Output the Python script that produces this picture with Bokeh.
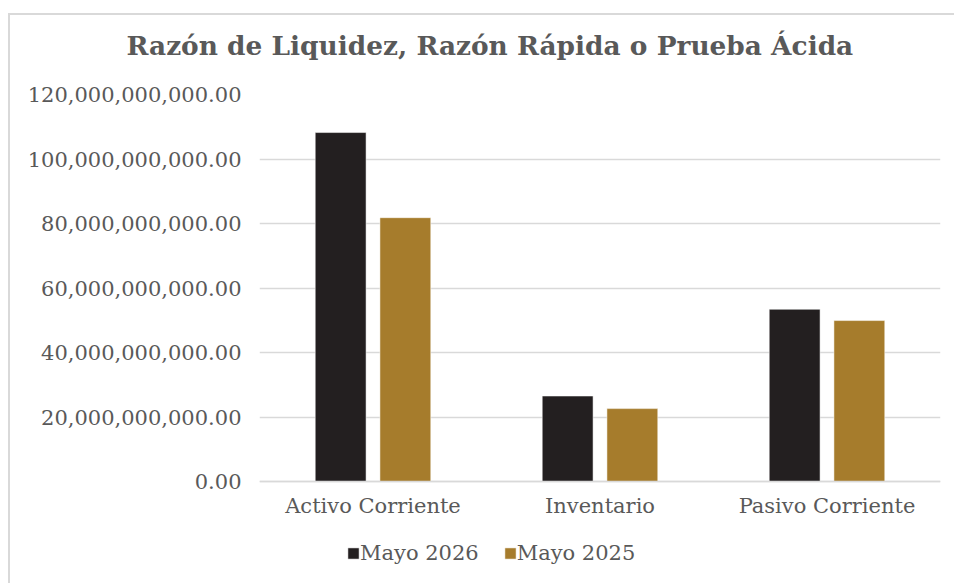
from bokeh.plotting import figure
from bokeh.models import (ColumnDataSource, FactorRange, Range1d, Legend, LegendItem,
                          NumeralTickFormatter, FixedTicker, Title)
from bokeh.transform import dodge
from bokeh.embed import file_html
from bokeh.resources import INLINE

categories = ["Activo Corriente", "Inventario", "Pasivo Corriente"]
mayo_2026 = [108.2e9, 26.5e9, 53.4e9]
mayo_2025 = [81.8e9, 22.6e9, 49.9e9]
series_names = ["Mayo 2026", "Mayo 2025"]
y_ticks = [0, 20e9, 40e9, 60e9, 80e9, 100e9, 120e9]

TEXT = "#595959"
FONT = "DejaVu Serif"
DARK = "#231F20"
GOLD = "#A67C2C"
BORDER = "#d9d9d9"

# the plot frame reaches below the zero line so that the category labels and the
# legend (drawn inside the frame) are not clipped; 0 sits 94 px above frame bottom
Y_MAX = 120e9
Y_MIN = -Y_MAX * 94 / 387

src = ColumnDataSource(dict(cat=categories, a=mayo_2026, b=mayo_2025))

p = figure(x_range=FactorRange(*categories, range_padding=0), y_range=Range1d(Y_MIN, Y_MAX),
           width=954, height=583, output_backend="svg", toolbar_location=None,
           min_border_left=259, min_border_right=14, min_border_top=94, min_border_bottom=8)
p.margin = (0, 0, 0, 0)
# chart-area border (top and left edges visible in the window)
p.styles = {
    "background-color": "white",
    "background-image": f"linear-gradient({BORDER}, {BORDER}), linear-gradient({BORDER}, {BORDER})",
    "background-position": "8px 13px, 8px 13px",
    "background-size": "100% 2px, 2px 100%",
    "background-repeat": "no-repeat",
}
p.outline_line_color = None
p.background_fill_color = "white"
p.border_fill_alpha = 0

# spacer (closest to the frame) and the real title above it
spacer = Title(text=" ", text_font_size="1px", standoff=26)
p.add_layout(spacer, "above")
title = Title(text="Razón de Liquidez, Razón Rápida o Prueba Ácida", align="left",
              offset=-133, standoff=10, text_font=FONT, text_font_style="bold",
              text_font_size="26.4px", text_color=TEXT)
p.add_layout(title, "above")

r1 = p.vbar(x=dodge("cat", -0.1425, range=p.x_range), top="a", width=0.224, source=src,
            fill_color=DARK, line_color="white", line_alpha=0.5, line_width=1)
r2 = p.vbar(x=dodge("cat", 0.1425, range=p.x_range), top="b", width=0.224, source=src,
            fill_color=GOLD, line_color="white", line_alpha=0.5, line_width=1)

p.xgrid.grid_line_color = None
p.ygrid.ticker = FixedTicker(ticks=y_ticks)
p.ygrid.grid_line_color = BORDER
p.ygrid.grid_line_width = 1.5

p.yaxis.ticker = FixedTicker(ticks=y_ticks)
p.yaxis.formatter = NumeralTickFormatter(format="0,0.00")
for ax in (p.xaxis[0], p.yaxis[0]):
    ax.axis_line_color = None
    ax.major_tick_line_color = None
    ax.minor_tick_line_color = None
    ax.major_tick_out = 0
    ax.major_tick_in = 0
    ax.major_label_text_font = FONT
    ax.major_label_text_font_size = "21px"
    ax.major_label_text_color = TEXT
p.xaxis.fixed_location = 0
p.xaxis.major_label_standoff = 12
p.xaxis.axis_line_color = BORDER
p.xaxis.axis_line_width = 1.5
p.yaxis.major_label_standoff = 18

legend = Legend(items=[LegendItem(label=series_names[0], renderers=[r1]),
                       LegendItem(label=series_names[1], renderers=[r2])],
                orientation="horizontal", location=(87, 10),
                glyph_width=14, glyph_height=14, label_standoff=0, spacing=24,
                padding=0, margin=0, border_line_color=None, background_fill_alpha=0,
                label_text_font=FONT, label_text_font_size="21px", label_text_color=TEXT)
p.add_layout(legend, "center")

open("out.html", "w").write(file_html(p, INLINE))
